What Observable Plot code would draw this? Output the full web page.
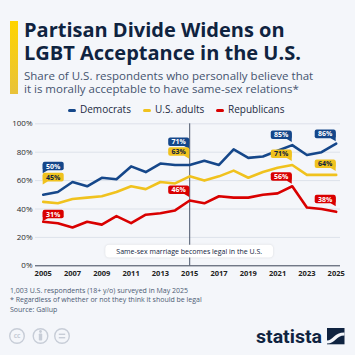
<!DOCTYPE html>
<html><head><meta charset="utf-8">
<script src="https://cdn.jsdelivr.net/npm/d3@7"></script>
<script src="https://cdn.jsdelivr.net/npm/@observablehq/plot@0.6"></script>
<style>
html,body{margin:0;padding:0;}
body{width:355px;height:355px;background:#f4f6fa;position:relative;overflow:hidden;font-family:"Open Sans",sans-serif;}
.bar{position:absolute;left:10px;top:21px;width:8px;height:73px;background:linear-gradient(#ffd400,#e8c23a);}
.title{position:absolute;left:24px;font-size:20px;line-height:23px;height:23px;font-weight:700;color:#0f2340;white-space:nowrap;}
.sub{position:absolute;left:24px;font-size:11.5px;line-height:13px;height:13px;color:#44546f;white-space:nowrap;}
.leg{position:absolute;top:103px;height:12px;font-size:10px;line-height:12px;color:#1c2a42;white-space:nowrap;}
.leg span.t{position:absolute;left:12px;top:0;}
.sw{position:absolute;left:0;top:5.5px;width:8px;height:3px;border-radius:1.5px;}
#chart{position:absolute;left:0;top:115px;}
.foot{position:absolute;left:10px;font-size:7px;color:#4c5b74;white-space:nowrap;line-height:8px;height:8px;}
#logos{position:absolute;left:0;top:320px;}
</style>
</head>
<body>
<div class="bar"></div>
<div class="title" style="top:17.7px">Partisan Divide Widens on</div>
<div class="title" style="top:40.7px">LGBT Acceptance in the U.S.</div>
<div class="sub" style="top:68.8px">Share of U.S. respondents who personally believe that</div>
<div class="sub" style="top:81.8px">it is morally acceptable to have same-sex relations*</div>
<div id="legend"></div>
<div id="chart"></div>
<div class="foot" style="top:287.3px">1,003 U.S. respondents (18+ y/o) surveyed in May 2025</div>
<div class="foot" style="top:295.8px">* Regardless of whether or not they think it should be legal</div>
<div class="foot" style="top:306.3px">Source: Gallup</div>
<svg id="logos" width="355" height="35">
  <g fill="none" stroke="#c7cdd7" stroke-width="1.4">
    <circle cx="17" cy="16" r="7.3"/>
    <circle cx="40.5" cy="16" r="7.3"/>
    <circle cx="62" cy="16" r="7.3"/>
  </g>
  <text x="17" y="18.3" text-anchor="middle" font-size="6.5" font-weight="700" fill="#c7cdd7" font-family="Open Sans">cc</text>
  <circle cx="40.5" cy="11.5" r="1.4" fill="#c7cdd7"/>
  <rect x="38.8" y="13.5" width="3.4" height="7" rx="0.8" fill="#c7cdd7"/>
  <rect x="58.8" y="13.6" width="6.4" height="1.4" fill="#c7cdd7"/>
  <rect x="58.8" y="17" width="6.4" height="1.4" fill="#c7cdd7"/>
  <text x="256" y="23.3" font-size="19" font-weight="700" fill="#0f2340" font-family="Roboto" textLength="66" lengthAdjust="spacingAndGlyphs">statista</text>
  <rect x="327" y="8" width="17.5" height="16.3" fill="#0f2340"/>
  <path d="M327,20.5 C333,20.5 334,12.5 344.5,12.5 L344.5,15.5 C336,15.5 335.5,23.5 327,23.5 Z" fill="#f4f6fa"/>
</svg>
<script>
// ---- data ----
const years = [2005,2006,2007,2008,2009,2010,2011,2012,2013,2014,2015,2016,2017,2018,2019,2020,2021,2022,2023,2024,2025];
const democrats   = [50,52,59,56,62,61,70,66,72,71,71,74,71,82,76,77,81,85,78,80,86];
const usAdults    = [45,44,47,48,49,52,56,54,59,58,63,60,63,67,62,66,69,71,64,64,64];
const republicans = [31,30,27,31,29,35,30,36,37,39,46,44,49,48,48,50,51,56,41,40,38];
const seriesNames = ["Democrats","U.S. adults","Republicans"];
const seriesColors = ["#15478a","#f0c21e","#d90000"];
const labelTextColors = ["#ffffff","#0f2340","#ffffff"];
const labelYears = [2005, 2015, 2022, 2025];
const tickYears = [2005,2007,2009,2011,2013,2015,2017,2019,2021,2023,2025];
const yTicks = [0,20,40,60,80,100];
const annotationYear = 2015;
const annotationText = "Same-sex marriage becomes legal in the U.S.";
// pixel lift of each label's pointer above its point (per series, per label year)
const labelLift = [[21,15.5,2.6,2],[17,17,3.5,3.4],[0,3,2,5]];

// ---- legend ----
const legendLeft = [68,143,216];
const legend = document.getElementById("legend");
seriesNames.forEach((s,k)=>{
  const div = document.createElement("div");
  div.className = "leg"; div.style.left = legendLeft[k] + "px";
  div.innerHTML = `<span class="sw" style="background:${seriesColors[k]}"></span><span class="t">${s}</span>`;
  legend.appendChild(div);
});

// ---- tables ----
const allSeries = [democrats, usAdults, republicans];
const data = seriesNames.flatMap((s,k)=>years.map((yr,i)=>({year:yr, value:allSeries[k][i], series:s})));
const labelRows = seriesNames.flatMap((s,k)=>labelYears.map((yr,j)=>({
  year:yr, value:allSeries[k][years.indexOf(yr)], series:s, k,
  lift:labelLift[k][j], side: j===0 ? "right" : "left"
})));

const ctx = document.createElement("canvas").getContext("2d");
function textWidth(str, font){ ctx.font = font; return ctx.measureText(str).width; }

function labelRender(index, scales, values){
  const g = d3.create("svg:g");
  for (const i of index){
    const d = labelRows[i];
    const px = values.x[i], py = values.y[i];
    const tip = py - d.lift, bottom = tip - 3, h = 8.6, top = bottom - h, w = 21;
    const left = d.side === "right" ? px : px - w;
    const col = seriesColors[d.k];
    g.append("rect").attr("x", left).attr("y", top).attr("width", w).attr("height", h).attr("rx", 2).attr("fill", col);
    const tx = d.side === "right" ? px + 5 : px - 5;
    g.append("path").attr("d", `M${px},${top+2}L${tx},${bottom}L${px},${tip}Z`).attr("fill", col);
    g.append("text").attr("x", left + w/2).attr("y", top + h/2).attr("dy", "0.36em")
      .attr("text-anchor","middle").attr("font-size", 7).attr("font-weight", 700)
      .attr("fill", labelTextColors[d.k]).text(d.value + "%");
  }
  return g.node();
}

function annotationRender(index, scales, values){
  const g = d3.create("svg:g");
  for (const i of index){
    const cx = values.x[i], cy = values.y[i];
    const w = textWidth(annotationText, "7px 'Open Sans'") + 22, h = 12.6;
    g.append("rect").attr("x", cx - w/2).attr("y", cy - h/2).attr("width", w).attr("height", h)
      .attr("rx", 4).attr("fill", "#ffffff").style("filter","drop-shadow(0 0.5px 1px rgba(0,0,0,0.12))");
    g.append("text").attr("x", cx).attr("y", cy).attr("dy","0.36em").attr("text-anchor","middle")
      .attr("font-size", 7).attr("fill", "#0f2340").text(annotationText);
  }
  return g.node();
}

const chart = Plot.plot({
  width: 355, height: 165,
  marginTop: 8.3, marginBottom: 14.7, marginLeft: 35, marginRight: 15,
  style: {fontFamily: "'Open Sans', sans-serif", background: "transparent", color: "#333", overflow: "visible"},
  x: {domain: [2005, 2025], insetLeft: 7.7, insetRight: 4.3, label: null},
  y: {domain: [0, 100], label: null},
  color: {domain: seriesNames, range: seriesColors},
  marks: [
    Plot.ruleY(yTicks.filter(v=>v>0), {stroke: "#dde2ea", strokeWidth: 1}),
    Plot.axisY({ticks: yTicks, tickFormat: d => d + "%", tickSize: 0, tickPadding: 3, fontSize: 8, fill: "#2a2a2a", label: null}),
    Plot.axisX({ticks: tickYears, tickFormat: d => String(d), tickSize: 0, tickPadding: 5, fontSize: 7.5, fontWeight: "bold", fill: "#222", label: null}),
    Plot.ruleX([annotationYear], {y1: 0, y2: 100, stroke: "#4a566b", strokeWidth: 1}),
    Plot.ruleY([0], {stroke: "#3a4456", strokeWidth: 1}),
    Plot.line(data, {x: "year", y: "value", stroke: "series", z: "series", strokeWidth: 2.6, strokeLinejoin: "round", strokeLinecap: "round"}),
    Plot.text([{year: annotationYear, value: 10}], {x: "year", y: "value", text: () => annotationText, render: annotationRender}),
    Plot.text(labelRows, {x: "year", y: "value", text: d => d.value + "%", render: labelRender})
  ]
});
document.getElementById("chart").appendChild(chart);
</script>
</body></html>
